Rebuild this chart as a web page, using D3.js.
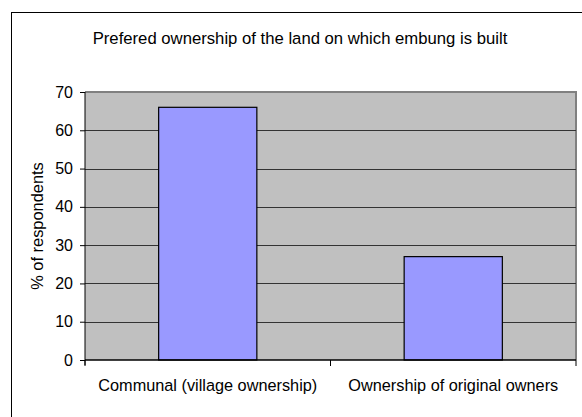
<!DOCTYPE html>
<html><head><meta charset="utf-8">
<script src="https://cdn.jsdelivr.net/npm/d3@7"></script>
<style>body{margin:0;background:#fff;}svg{display:block;font-family:"Liberation Sans",Arial,sans-serif;}</style>
</head><body>
<script>
const categories = ["Communal (village ownership)", "Ownership of original owners"];
const values = [66, 27];
const yTicks = [0, 10, 20, 30, 40, 50, 60, 70];
const title = "Prefered ownership of the land on which embung is built";
const yTitle = "% of respondents";

const W = 582, H = 417;
const svg = d3.select("body").append("svg").attr("width", W).attr("height", H);
svg.append("rect").attr("x", 11.5).attr("y", 12.5).attr("width", W + 10).attr("height", H + 10)
  .attr("fill", "#fff").attr("stroke", "#000").attr("stroke-width", 1);

const pl = 85, pr = 576, pt = 92, pb = 360;
const x = d3.scaleBand().domain(categories).range([pl, pr]).paddingInner(0).paddingOuter(0);
const y = d3.scaleLinear().domain([0, 70]).range([pb, pt]);

svg.append("rect").attr("x", pl).attr("y", pt).attr("width", pr - pl).attr("height", pb - pt)
  .attr("fill", "#C0C0C0");
svg.append("path").attr("d", `M${pl},${pt}H${pr}V${pb}`).attr("fill", "none")
  .attr("stroke", "#808080").attr("stroke-width", 2);

svg.append("g").selectAll("line").data(yTicks.filter(d => d > 0 && d < 70)).join("line")
  .attr("x1", pl).attr("x2", pr).attr("y1", d => Math.round(y(d)) + 0.5).attr("y2", d => Math.round(y(d)) + 0.5)
  .attr("stroke", "#333").attr("stroke-width", 1);

const bw = x.bandwidth() * 0.4;
svg.append("g").selectAll("rect").data(values).join("rect")
  .attr("x", (d, i) => x(categories[i]) + (x.bandwidth() - bw) / 2)
  .attr("y", d => y(d))
  .attr("width", bw).attr("height", d => pb - y(d))
  .attr("fill", "#9999FF").attr("stroke", "#000").attr("stroke-width", 1.2);

const yAxis = svg.append("g").attr("transform", `translate(${pl},0)`)
  .call(d3.axisLeft(y).tickValues(yTicks).tickSize(5).tickPadding(7));
yAxis.select(".domain").attr("stroke", "#000").attr("d", `M0,${pt}V${pb + 5}`);
yAxis.selectAll("text").attr("font-size", 16).attr("font-family", "Liberation Sans, Arial, sans-serif").attr("fill", "#000");

const xAxis = svg.append("g").attr("transform", `translate(0,${pb})`)
  .call(d3.axisBottom(x).tickSize(0).tickPadding(0));
xAxis.select(".domain").attr("stroke", "#000").attr("stroke-width", 1.5).attr("d", `M${pl},0H${pr}`);
xAxis.selectAll("text").attr("font-size", 16.3).attr("font-family", "Liberation Sans, Arial, sans-serif")
  .attr("fill", "#000").attr("dy", null).attr("y", 31);
const sep = [pl, x(categories[1]), pr];
svg.append("g").selectAll("line").data(sep).join("line")
  .attr("x1", d => d).attr("x2", d => d).attr("y1", pb).attr("y2", pb + 6).attr("stroke", "#000");

svg.append("text").attr("x", 300).attr("y", 44).attr("text-anchor", "middle")
  .attr("font-size", 16.7).text(title);
svg.append("text").attr("transform", `translate(43,${(pt + pb) / 2}) rotate(-90)`)
  .attr("text-anchor", "middle").attr("font-size", 16.4).text(yTitle);
</script>
</body></html>
